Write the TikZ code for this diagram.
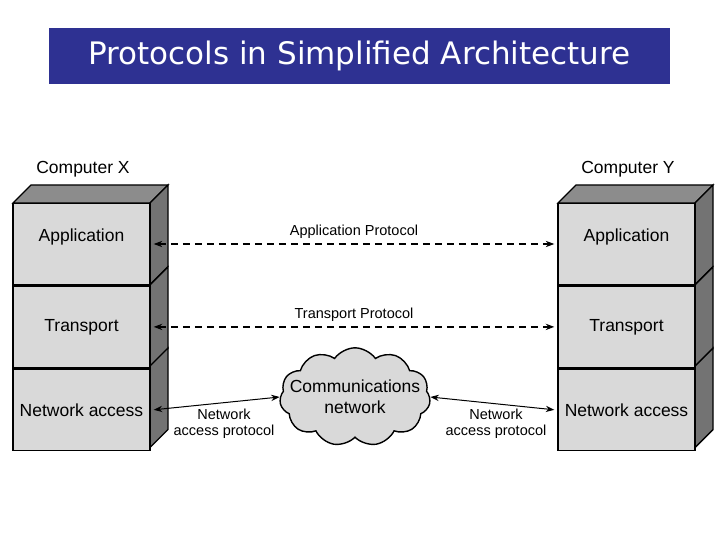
\documentclass[tikz,border=0pt]{standalone}
\usepackage{fontspec}
\setmainfont{Liberation Sans}
\newfontfamily\titlefont{DejaVu Sans}
\usetikzlibrary{arrows.meta, positioning, shapes.symbols}

\begin{document}
\begin{tikzpicture}[
    x=1pt, y=-1pt,
    layer/.style={
        rectangle,
        draw=black,
        line width=1.4pt,
        fill=black!15,
        minimum width=137pt,
        minimum height=81.5pt,
        inner sep=0pt,
        font=\fontsize{17.5}{19}\selectfont
    },
    side/.style={draw=black, line width=1.4pt, fill=black!55},
    top/.style={draw=black, line width=1.4pt, fill=black!45},
    proto/.style={
        line width=1.5pt,
        dashed, dash pattern=on 7pt off 5pt,
        {Stealth[length=3mm, width=2.2mm]}-{Stealth[length=3mm, width=2.2mm]}
    },
    netarrow/.style={
        line width=1pt,
        {Stealth[length=3mm, width=2.2mm]}-{Stealth[length=3mm, width=2.2mm]}
    },
    lbl/.style={font=\fontsize{14.5}{16}\selectfont, align=center, inner sep=1pt},
    complbl/.style={font=\fontsize{17.5}{19}\selectfont, inner sep=1pt}
]
\useasboundingbox (0,0) rectangle (720,540);

% Title
\node[fill={rgb,255:red,46;green,49;blue,146}, text=white, minimum width=621pt,
      minimum height=56pt, font=\titlefont\fontsize{31}{34}\selectfont] (title) at (359.5,56)
    {Protocols in Simplified Architecture};

% Stacks (3D faces)
\foreach \x in {13,558} {
    \draw[top] (\x,203) -- (\x+18,185) -- (\x+155,185) -- (\x+137,203) -- cycle;
    \foreach \t in {203,285,366} {
        \draw[side] (\x+137,\t+81.5) -- (\x+137,\t) -- (\x+155,\t-18) -- (\x+155,\t+63.5) -- cycle;
    }
}

% Computer X
\node[layer] (appX) at (81.5,244) {\raisebox{18pt}{Application}};
\node[layer, below=0pt of appX] (trX) {Transport};
\node[layer, below=0pt of trX] (netX) {Network access};
\node[complbl] (compX) at (83,169) {Computer X};

% Computer Y
\node[layer] (appY) at (626.5,244) {\raisebox{18pt}{Application}};
\node[layer, below=0pt of appY] (trY) {Transport};
\node[layer, below=0pt of trY] (netY) {Network access};
\node[complbl] (compY) at (628,169) {Computer Y};

% Communications network
\node[cloud, cloud puffs=11, cloud puff arc=110, aspect=1.8, draw=black, line width=1.4pt,
      fill=black!15, align=center, inner xsep=-14pt, inner ysep=-10pt,
      font=\fontsize{17.5}{21}\selectfont] (cloud) at (355,397) {Communications\\network};

% Protocol arrows
\draw[proto] ([xshift=3pt]appX.east) -- node[lbl, above=4pt] {Application Protocol} ([xshift=-3pt]appY.west);
\draw[proto] ([xshift=3pt]trX.east) -- node[lbl, above=4pt] {Transport Protocol} ([xshift=-3pt]trY.west);
\draw[netarrow] ([xshift=3pt]netX.east) -- (cloud.west);
\draw[netarrow] (cloud.east) -- ([xshift=-3pt]netY.west);
\node[lbl] (naX) at (224,424) {Network\\access protocol};
\node[lbl] (naY) at (496,424) {Network\\access protocol};
\end{tikzpicture}
\end{document}
